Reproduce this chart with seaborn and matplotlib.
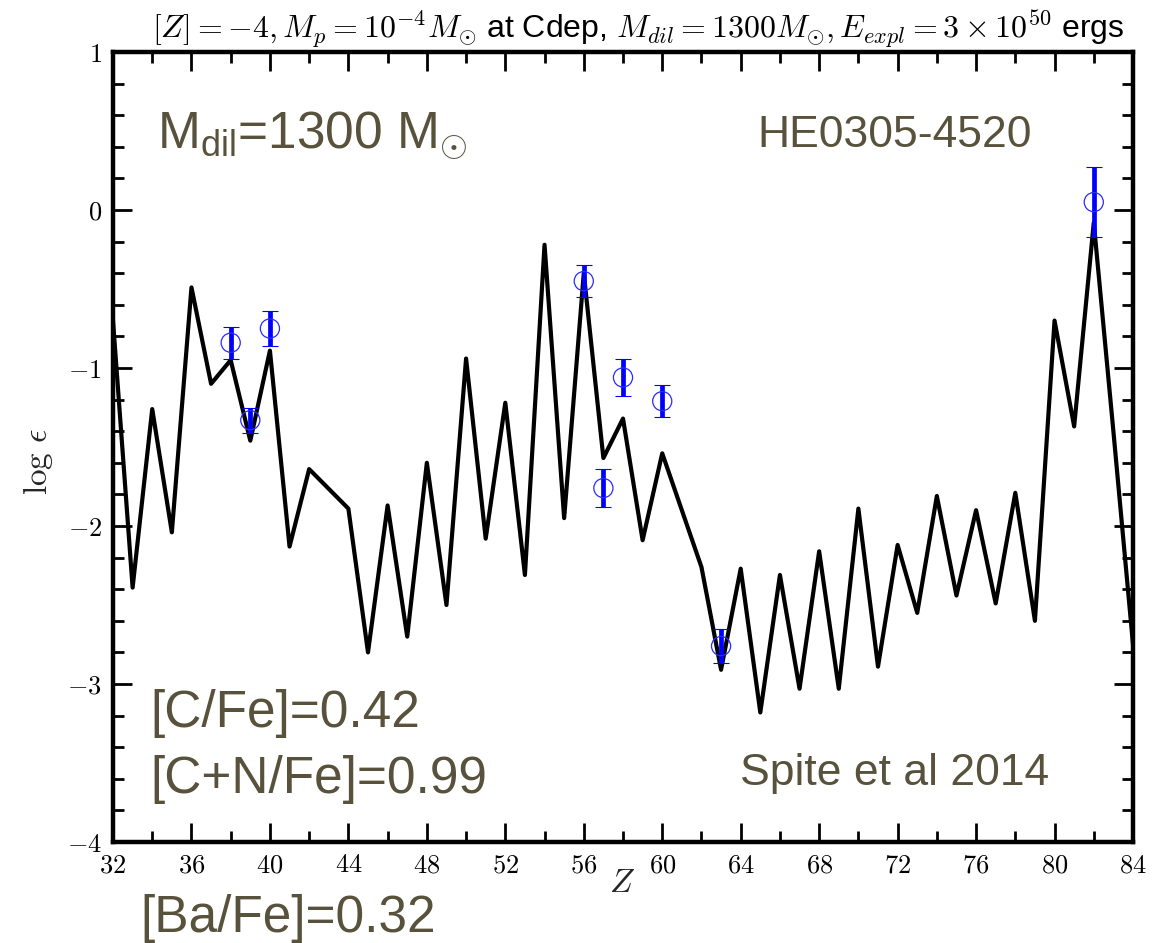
import numpy as np
import pandas as pd
import matplotlib
matplotlib.use("Agg")
import matplotlib.pyplot as plt
import seaborn as sns
from matplotlib.ticker import MultipleLocator

# ---- data ----
model_Z = [32, 33, 34, 35, 36, 37, 38, 39, 40, 41, 42, 44, 45, 46, 47, 48, 49, 50,
           51, 52, 53, 54, 55, 56, 57, 58, 59, 60, 62, 63, 64, 65, 66, 67, 68, 69,
           70, 71, 72, 73, 74, 75, 76, 77, 78, 79, 80, 81, 82, 83, 84]
model_logeps = [-0.70, -2.39, -1.26, -2.04, -0.49, -1.10, -0.95, -1.46, -0.89, -2.13,
                -1.64, -1.89, -2.80, -1.87, -2.70, -1.60, -2.50, -0.94, -2.08, -1.22,
                -2.31, -0.22, -1.95, -0.40, -1.57, -1.32, -2.09, -1.54, -2.26, -2.91,
                -2.27, -3.18, -2.31, -3.03, -2.16, -3.03, -1.89, -2.89, -2.12, -2.55,
                -1.81, -2.44, -1.90, -2.49, -1.79, -2.60, -0.70, -1.37, -0.08, -1.40,
                -2.75]

obs_Z = [38, 39, 40, 56, 57, 58, 60, 63, 82]
obs_logeps = [-0.84, -1.33, -0.75, -0.45, -1.76, -1.06, -1.21, -2.76, 0.05]
obs_err = [0.10, 0.08, 0.11, 0.10, 0.12, 0.12, 0.10, 0.11, 0.22]

x_ticks = [32, 36, 40, 44, 48, 52, 56, 60, 64, 68, 72, 76, 80, 84]
y_ticks = [1, 0, -1, -2, -3, -4]

title_text = (r"$[Z]=-4, M_p=10^{-4}M_{\odot}$ at Cdep, "
              r"$M_{dil}=1300M_{\odot}, E_{expl}=3\times10^{50}$ ergs")

# ---- style ----
sns.set_theme(style="ticks")
plt.rcParams["font.family"] = ["Liberation Sans", "DejaVu Sans"]
plt.rcParams["mathtext.fontset"] = "custom"
plt.rcParams["mathtext.rm"] = "Liberation Sans"
plt.rcParams["mathtext.it"] = "Liberation Sans:italic"
plt.rcParams["mathtext.bf"] = "Liberation Sans:bold"
plt.rcParams["mathtext.sf"] = "Liberation Sans"

W, H = 1176, 943
fig = plt.figure(figsize=(W / 100, H / 100), dpi=100)
ax = fig.add_axes([113 / W, 1 - 842 / H, (1133 - 113) / W, (842 - 52) / H])

model_df = pd.DataFrame({"Z": model_Z, "logeps": model_logeps})
sns.lineplot(data=model_df, x="Z", y="logeps", ax=ax, color="black", lw=3.0,
             sort=False, zorder=2)

ax.errorbar(obs_Z, obs_logeps, yerr=obs_err, fmt="none", ecolor="#0000ff",
            elinewidth=3.4, capsize=0, zorder=3)
ax.errorbar(obs_Z, obs_logeps, yerr=obs_err, fmt="none", ecolor="#0000ff",
            elinewidth=0.8, capsize=6, capthick=0.8, zorder=3)
sns.scatterplot(x=obs_Z, y=obs_logeps, ax=ax, marker="o", s=190,
                facecolors="none", edgecolor="#2a2aff", linewidth=0.9, zorder=4)

ax.set_xlim(32, 84)
ax.set_ylim(-4, 1)

ax.xaxis.set_minor_locator(MultipleLocator(2))
ax.yaxis.set_minor_locator(MultipleLocator(0.2))
ax.tick_params(which="both", direction="in", top=True, right=True,
               width=2.0, color="black", labelcolor="black")
ax.tick_params(which="major", length=14, pad=8)
ax.tick_params(which="minor", length=8)
ax.set_xticks(x_ticks, [f"${v}$" for v in x_ticks], math_fontfamily="cm",
              fontsize=19)
ax.set_yticks(y_ticks, [f"${v}$" for v in y_ticks], math_fontfamily="cm",
              fontsize=19)
for sp in ax.spines.values():
    sp.set_linewidth(3.2)
    sp.set_color("black")
    sp.set_visible(True)

ax.set_xlabel("")
ax.set_ylabel("")
fig.text(622 / W, 1 - 884 / H, r"$Z$", ha="center", va="center",
         fontsize=24, math_fontfamily="cm")
fig.text(38 / W, 1 - 462 / H, r"$\log\,\epsilon$", ha="center", va="center",
         rotation=90, fontsize=24, math_fontfamily="cm")

fig.text(638 / W, 1 - 38 / H, title_text, ha="center", va="baseline",
         fontsize=23, math_fontfamily="cm", color="black")

olive = "#58523c"
fig.text(157 / W, 1 - 148 / H, r"M$_{\mathrm{dil}}$=1300 M$_{\odot}$", ha="left",
         va="baseline", fontsize=37, color=olive, math_fontfamily="custom")
fig.text(757 / W, 1 - 147 / H, "HE0305-4520", ha="left", va="baseline",
         fontsize=32, color=olive)
fig.text(150 / W, 1 - 727 / H, "[C/Fe]=0.42", ha="left", va="baseline",
         fontsize=37, color=olive)
fig.text(150 / W, 1 - 793 / H, "[C+N/Fe]=0.99", ha="left", va="baseline",
         fontsize=37, color=olive)
fig.text(740 / W, 1 - 785 / H, "Spite et al 2014", ha="left", va="baseline",
         fontsize=32, color=olive)
fig.text(140 / W, 1 - 932 / H, "[Ba/Fe]=0.32", ha="left", va="baseline",
         fontsize=37, color=olive)

fig.savefig("out.png", dpi=100)
